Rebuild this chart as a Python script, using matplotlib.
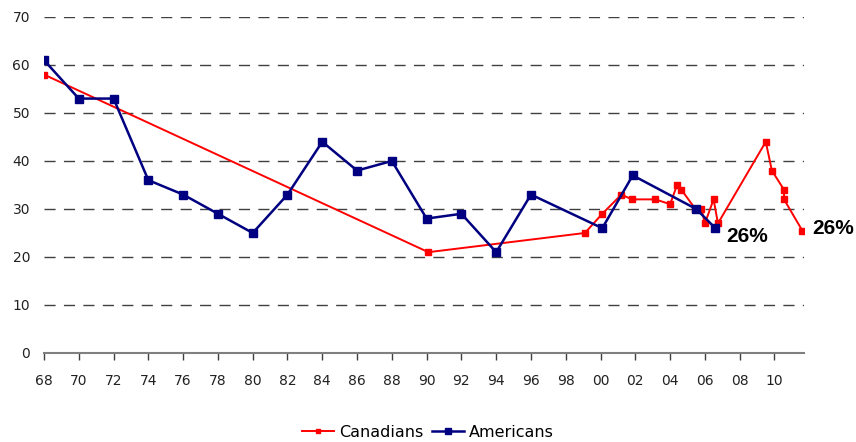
import matplotlib
matplotlib.use("Agg")
import matplotlib.pyplot as plt

# survey years (fractional where several polls fall in one year)
years_us = [1968, 1970, 1972, 1974, 1976, 1978, 1980, 1982, 1984, 1986, 1988,
            1990, 1992, 1994, 1996, 2000.1, 2001.85, 2005.5, 2006.6]
pct_us = [61, 53, 53, 36, 33, 29, 25, 33, 44, 38, 40,
          28, 29, 21, 33, 26, 37, 30, 26]

years_ca = [1968, 1990.1, 1999.1, 2000.1, 2001.2, 2001.8, 2003.15, 2004.0,
            2004.4, 2004.65, 2005.45, 2005.8, 2006.0, 2006.5, 2006.75,
            2009.5, 2009.85, 2010.55, 2010.55, 2011.6]
pct_ca = [58, 21, 25, 29, 33, 32, 32, 31,
          35, 34, 30, 30, 27, 32, 27,
          44, 38, 34, 32, 25.5]

tick_years = list(range(1968, 2011, 2))
tick_labels = ["%02d" % (y % 100) for y in tick_years]

fig = plt.figure(figsize=(8.56, 4.42), dpi=100)
ax = fig.add_axes([0.0514, 0.2014, 0.8879, 0.7602])

ax.plot(years_ca, pct_ca, color="#ff0000", lw=1.4, marker="s", ms=4.2,
        label="Canadians", zorder=3)
ax.plot(years_us, pct_us, color="#000080", lw=1.8, marker="s", ms=6,
        label="Americans", zorder=4)

ax.text(2007.2, 24.3, "26%", fontsize=15, fontweight="bold",
        family="Liberation Sans", va="center", ha="left")
ax.text(2012.2, 25.9, "26%", fontsize=15, fontweight="bold",
        family="Liberation Sans", va="center", ha="left", clip_on=False)

ax.set_xlim(1968, 2011.7)
ax.set_ylim(0, 70)
ax.set_yticks(range(0, 71, 10))
ax.set_xticks(tick_years)
ax.set_xticklabels(tick_labels)

for y in range(10, 71, 10):
    ax.axhline(y, color="#404040", lw=1, dashes=(8, 6), zorder=1)

for s in ["top", "right", "left"]:
    ax.spines[s].set_visible(False)
ax.spines["bottom"].set_color("#808080")
ax.spines["bottom"].set_linewidth(1.5)

ax.tick_params(axis="y", length=0, pad=10, labelsize=10, colors="#222222")
ax.tick_params(axis="x", length=5, width=1, color="#404040", pad=10,
               labelsize=10, labelcolor="#222222")

fig.legend(loc="lower center", bbox_to_anchor=(0.5, -0.028), ncol=2,
           frameon=False, fontsize=11.5, handlelength=2.0, handletextpad=0.3,
           columnspacing=0.6, markerscale=0.8)

fig.savefig("out.png", dpi=100)
